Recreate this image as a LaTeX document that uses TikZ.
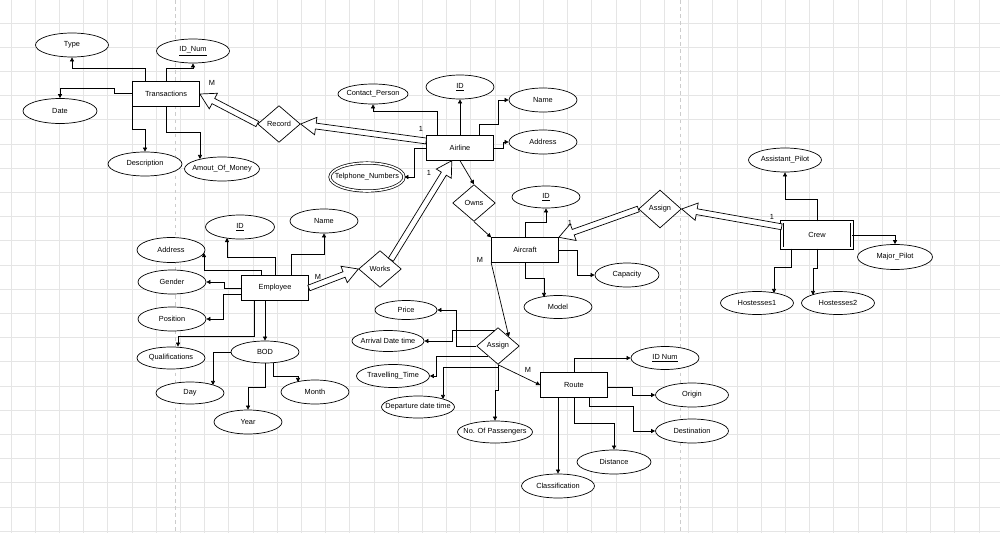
\documentclass[tikz,border=0pt]{standalone}
\usepackage{fontspec}
\setmainfont{Liberation Sans}
\usetikzlibrary{shapes.geometric,calc,arrows.meta}

\tikzset{
	entity/.style={draw,fill=white,rectangle,minimum width=2.01cm,minimum height=0.74cm,inner sep=0pt},
	weak/.style={entity,double,double distance=1.6pt,minimum width=2.1cm,minimum height=0.8cm},
	attr/.style={draw,fill=white,ellipse,minimum width=2.19cm,minimum height=0.72cm,inner xsep=-14pt,inner ysep=0pt},
	sattr/.style={attr,minimum width=2.04cm},
	multi/.style={attr,double,double distance=1.4pt,minimum width=2.22cm,minimum height=0.84cm},
	rel/.style={draw,fill=white,diamond,minimum width=1.28cm,minimum height=1.1cm,inner sep=0pt},
	card/.style={inner sep=0pt},
	fat/.style={draw,fill=white,line join=miter},
	gridline/.style={gray!20,line width=0.5pt},
	pagebreak/.style={gray!40,dashed,line width=0.6pt},
}

% hollow double arrow, tip at #2
\newcommand\fatarrow[2]{%
	\coordinate (fatneck) at ($(#2)!13pt!(#1)$);
	\draw[fat] ($(#1)!2.5pt!90:(#2)$) -- ($(fatneck)!2.5pt!90:(#2)$)
		-- ($(fatneck)!7.5pt!90:(#2)$) -- (#2) -- ($(fatneck)!7.5pt!-90:(#2)$)
		-- ($(fatneck)!2.5pt!-90:(#2)$) -- ($(#1)!2.5pt!-90:(#2)$) -- cycle;}

\begin{document}
\begin{tikzpicture}[x=0.03cm,y=-0.03cm,>={Triangle[length=3.5pt,width=3.5pt]},semithick,font=\fontsize{6.3}{7.5}\selectfont]
	\fill[white] (0,0) rectangle (1000,533);
	\useasboundingbox (0,0) rectangle (1000,533);
	\foreach \gx in {10.8,35,...,1000}
		\draw[gridline] (\gx,0) -- (\gx,533);
	\foreach \gy in {22.8,47,...,533}
		\draw[gridline] (0,\gy) -- (1000,\gy);
	\draw[pagebreak] (175,0) -- (175,533);
	\draw[pagebreak] (680,0) -- (680,533);

	% Transactions
	\node[entity] (Transactions) at (166,94) {Transactions};
	\node[attr] (TrType) at (72,45) {Type};
	\node[attr] (TrID) at (193,51) {\underline{ID\_Num}};
	\node[attr,minimum width=2.22cm,minimum height=0.75cm] (TrDate) at (60,111) {Date};
	\node[attr,minimum width=2.22cm] (TrDesc) at (145,164) {Description};
	\node[attr,minimum width=2.25cm] (TrMoney) at (222,169) {Amout\_Of\_Money};

	% Airline
	\node[rel] (Record) at (279,124) {Record};
	\node[entity] (Airline) at (460,148) {Airline};
	\node[attr,minimum width=2.1cm,minimum height=0.6cm] (AlContact) at (373,94) {Contact\_Person};
	\node[sattr] (AlID) at (460,87) {\underline{ID}};
	\node[sattr] (AlName) at (543,100) {Name};
	\node[sattr] (AlAddress) at (543,142) {Address};
	\node[multi] (AlPhones) at (367,177) {Telphone\_Numbers};

	% Aircraft
	\node[rel] (Owns) at (474,203) {Owns};
	\node[entity] (Aircraft) at (525,250) {Aircraft};
	\node[sattr,minimum height=0.66cm] (AcID) at (546,197) {\underline{ID}};
	\node[sattr,minimum width=1.92cm] (AcCapacity) at (627,275) {Capacity};
	\node[sattr,minimum height=0.69cm] (AcModel) at (558,307) {Model};

	% Assign / Route
	\node[rel] (AssignRoute) at (498,346) {Assign};
	\node[attr,minimum width=1.86cm,minimum height=0.57cm] (ArPrice) at (406,310) {Price};
	\node[attr,minimum width=2.16cm,minimum height=0.63cm] (ArArrival) at (388,341) {Arrival Date time};
	\node[attr,minimum height=0.69cm] (ArTravel) at (393,376) {Travelling\_Time};
	\node[attr,minimum height=0.66cm] (ArDeparture) at (418,407) {Departure date time};
	\node[attr,minimum width=2.25cm,minimum height=0.66cm] (ArPassengers) at (495,432) {No. Of Passengers};

	\node[entity] (Route) at (574,385) {Route};
	\node[sattr,minimum height=0.69cm] (RtID) at (665,358) {\underline{ID Num}};
	\node[attr] (RtOrigin) at (692,395) {Origin};
	\node[attr] (RtDestination) at (692,431) {Destination};
	\node[attr,minimum width=2.22cm] (RtDistance) at (614,462) {Distance};
	\node[attr] (RtClass) at (558,486) {Classification};

	% Crew
	\node[rel,minimum height=1.14cm] (AssignCrew) at (660,209) {Assign};
	\node[weak] (Crew) at (817,235) {Crew};
	\node[attr] (CrAssistant) at (785,160) {Assistant\_Pilot};
	\node[attr,minimum width=2.25cm,minimum height=0.75cm] (CrMajor) at (895,257) {Major\_Pilot};
	\node[attr,minimum height=0.69cm] (CrHost1) at (757,303) {Hostesses1};
	\node[attr,minimum height=0.69cm] (CrHost2) at (838,303) {Hostesses2};

	% Employee
	\node[entity] (Employee) at (275,288) {Employee};
	\node[sattr,minimum width=2.07cm] (EmID) at (240,227) {\underline{ID}};
	\node[sattr] (EmName) at (324,221) {Name};
	\node[sattr,minimum height=0.75cm] (EmAddress) at (171,250) {Address};
	\node[sattr] (EmGender) at (172,282) {Gender};
	\node[sattr] (EmPosition) at (172,319) {Position};
	\node[sattr,minimum height=0.66cm] (EmQual) at (171,358) {Qualifications};
	\node[sattr,minimum height=0.66cm] (EmBOD) at (265,352) {BOD};
	\node[sattr,minimum height=0.66cm] (BdDay) at (190,393) {Day};
	\node[sattr] (BdMonth) at (315,392) {Month};
	\node[sattr] (BdYear) at (248,422) {Year};
	\node[rel] (Works) at (380,269) {Works};

	% attribute links
	\draw[->] (Transactions.north) ++(-21,0) -- ++(0,-13) -| (TrType.south);
	\draw[->] (Transactions.north) -- ++(0,-13) -| (TrID.south);
	\draw[->] (Transactions.west) ++(0,-1) -- ++(-18,0) -- ++(0,-5) -| (TrDate.north);
	\draw[->] (Transactions.south west) -- ++(0,23) -| (TrDesc.north);
	\draw[->] (Transactions.south) -- ++(0,26) -| ($(TrMoney.center)+(-22,-10)$);

	\draw[->] (Airline.north) ++(-23,0) -- ++(0,-24) -| (AlContact.south);
	\draw[->] (Airline.north) -- (AlID.south);
	\draw[->] (Airline.north) ++(19,0) -- ++(0,-11) -- ++(19,0) |- (AlName.west);
	\draw[->] (Airline.east) -- ++(9,0) |- (AlAddress.west);
	\draw[->] (Airline.west) -- ++(-12,0) |- (AlPhones.east);
	\draw[->] (Airline.south) -- (Owns.north);
	\draw[->] (Owns.south) -- (Aircraft.north west);

	\draw[->] (Aircraft.north) -- ++(0,-15) -| (AcID.south);
	\draw[->] (Aircraft.east) -- ++(18,0) |- (AcCapacity.west);
	\draw[->] (Aircraft.south) -- ++(0,16) -| ($(AcModel.center)+(-14,-10)$);
	\draw[->] (Aircraft.south west) -- (AssignRoute.north east);

	\draw[->] (AssignRoute.west) -- ++(-20,0) |- (ArPrice.east);
	\draw[->] ($(AssignRoute.north)+(-3.5,3)$) -- ++(-42,0) |- (ArArrival.east);
	\draw[->] ($(AssignRoute.west)+(11.7,10)$) -- ++(-52,0) |- (ArTravel.east);
	\draw[->] (AssignRoute.south) -- ++(0,3) -| ($(ArDeparture.center)+(25,-8)$);
	\draw[->] (AssignRoute.south) -- ++(0,26) -| (ArPassengers.north);
	\draw[->] (AssignRoute.south) -- (Route.west);

	\draw[->] (Route.north) |- (RtID.west);
	\draw[->] (Route.east) ++(0,2) -- ++(24,0) |- (RtOrigin.west);
	\draw[->] (Route.south) ++(15,0) -- ++(0,9) -- ++(44,0) |- (RtDestination.west);
	\draw[->] (Route.south) -- ++(0,26) -| (RtDistance.north);
	\draw[->] (Route.south) ++(-16,0) -- (RtClass.north);

	\draw[->] (Crew.north) -- ++(0,-22) -| (CrAssistant.south);
	\draw[->] (Crew.east) -| (CrMajor.north);
	\draw[->] (Crew.south) ++(-26,0) -- ++(0,19) -| ($(CrHost1.center)+(17,-10)$);
	\draw[->] (Crew.south) -- ++(0,20) -| ($(CrHost2.center)+(-25,-8)$);

	\draw[->] (Employee.north) -- ++(0,-18) -| ($(EmID.center)+(-13,11)$);
	\draw[->] (Employee.north) ++(16,0) -- ++(0,-21) -| (EmName.south);
	\draw[->] (Employee.north) ++(-14,0) -- ++(0,-5) -| ($(EmAddress.center)+(33,3)$);
	\draw[->] (Employee.west) -- ++(-17,0) |- (EmGender.east);
	\draw[->] (Employee.west) ++(0,6) -- ++(-18,0) |- (EmPosition.east);
	\draw[->] (Employee.south) ++(-21,0) -- ++(0,36) -| ($(EmQual.north)+(7,0)$);
	\draw[->] (Employee.south) ++(-10,0) -- (EmBOD.north);

	\draw[->] (EmBOD.west) -| ($(BdDay.center)+(23,-8)$);
	\draw[->] (EmBOD.south) ++(8,0) -- ++(0,13) -| ($(BdMonth.center)+(-17,-10)$);
	\draw[->] (EmBOD.south) -- ++(0,24) -| (BdYear.north);

	% relationships
	\fatarrow{Record.west}{Transactions.east}
	\coordinate (AlRecord) at ([yshift=6pt]Airline.west);
	\fatarrow{AlRecord}{Record.east}
	\fatarrow{Employee.east}{Works.west}
	\coordinate (AlWorks) at ([xshift=-7pt]Airline.south);
	\fatarrow{Works.north east}{AlWorks}
	\coordinate (CrAssign) at ([yshift=7pt]Crew.west);
	\fatarrow{CrAssign}{AssignCrew.east}
	\fatarrow{AssignCrew.west}{Aircraft.north east}

	\node[card] (cRecTr) at (212,83) {M};
	\node[card] (cRecAl) at (421,129) {1};
	\node[card] (cWorksEm) at (318,277) {M};
	\node[card] (cWorksAl) at (429,173) {1};
	\node[card] (cOwnsAc) at (480,260) {M};
	\node[card] (cAssignAc) at (570,223) {1};
	\node[card] (cAssignCr) at (772,217) {1};
	\node[card] (cAssignRt) at (528,370) {M};
\end{tikzpicture}
\end{document}
